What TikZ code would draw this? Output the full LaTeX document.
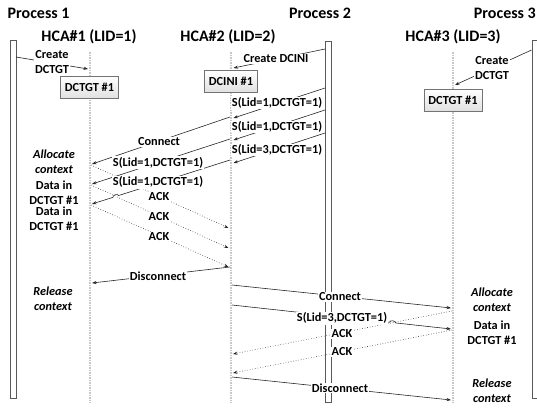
\documentclass[tikz,border=0pt]{standalone}
\usepackage{fontspec}
\setmainfont{Carlito}
\usetikzlibrary{arrows.meta,calc}
\begin{document}
\begin{tikzpicture}[x=1pt,y=-1pt,
  font=\fontsize{12.3}{15}\selectfont\bfseries,
  msg/.style={draw=black!85, line width=0.6pt, -{Stealth[length=4.5pt,width=3.2pt]}},
  ackmsg/.style={msg, dotted},
  lbl/.style={fill=white, inner sep=1pt, align=center},
  sidetxt/.style={inner sep=0pt, align=center},
  itx/.style={sidetxt, font=\fontsize{12.3}{15}\selectfont\bfseries\itshape},
  titletxt/.style={inner sep=0pt, font=\fontsize{16}{19}\selectfont\bfseries},
  lifeline/.style={draw=black!22, line width=1.5pt, densely dotted},
  procbar/.style={draw=black!65, fill=white, line width=0.6pt, inner sep=0pt, minimum width=6pt, anchor=north west},
  boxst/.style={draw=black!55, top color=white, bottom color=black!12, minimum height=22pt, inner xsep=4.5pt, line width=0.6pt}
]
\useasboundingbox (0,0) rectangle (537,407);
\clip (0,0) rectangle (537,407);

% titles
\node[titletxt, anchor=west] (t1) at (7.5,13) {Process 1};
\node[titletxt] (t2) at (320,13) {Process 2};
\node[titletxt, anchor=east] (t3) at (536,13) {Process 3};
\node[titletxt] (h1) at (89,37) {HCA\#1 (LID=1)};
\node[titletxt] (h2) at (228,37) {HCA\#2 (LID=2)};
\node[titletxt] (h3) at (453,37) {HCA\#3 (LID=3)};

% process bars
\node[procbar, minimum height=358pt] (p1) at (10,40) {};
\node[procbar, minimum height=361pt] (p2) at (325,41) {};
\node[procbar, minimum height=358pt] (p3) at (531.5,40) {};

% lifelines
\coordinate (l1t) at (90,52);  \coordinate (l1b) at (90,403);
\coordinate (l2t) at (231,52); \coordinate (l2b) at (231,403);
\coordinate (l3t) at (453,52); \coordinate (l3b) at (453,403);
\draw[lifeline] (l1t) -- (l1b);
\draw[lifeline] (l2t) -- (l2b);
\draw[lifeline] (l3t) -- (l3b);

% boxes
\node[boxst] (b1) at (89.5,87) {DCTGT \#1};
\node[boxst] (b2) at (231,81.5) {DCINI \#1};
\node[boxst] (b3) at (453,100) {DCTGT \#1};

% endpoints
\coordinate (c1s) at (16,57);    \coordinate (c1e) at (88,69);
\coordinate (c2s) at (325,49);   \coordinate (c2e) at (233.5,68);
\coordinate (c3s) at (531.5,50); \coordinate (c3e) at (455,85);

\coordinate (s1s) at (325,88);  \coordinate (s1e) at (233.5,118);
\coordinate (s2s) at (325,110); \coordinate (s2e) at (233.5,140);
\coordinate (s3s) at (325,133); \coordinate (s3e) at (233.5,163);

\coordinate (cn1s) at (230,117); \coordinate (cn1e) at (92,164);
\coordinate (d1s) at (230,139);  \coordinate (d1e) at (92,184);
\coordinate (d2s) at (230,160);  \coordinate (d2e) at (92,204);
\coordinate (a1s) at (91,165);   \coordinate (a1e) at (228.5,228);
\coordinate (a2s) at (91,185);   \coordinate (a2e) at (228.5,248);
\coordinate (a3s) at (91,205);   \coordinate (a3e) at (228.5,267);
\coordinate (ds) at (230,267);   \coordinate (de) at (92,283);

\coordinate (cn2s) at (232,285); \coordinate (cn2e) at (451,308);
\coordinate (s4s) at (232,305);  \coordinate (s4e) at (451,329);
\coordinate (e1s) at (452,311);  \coordinate (e1e) at (233,354);
\coordinate (e2s) at (452,330);  \coordinate (e2e) at (233,373);
\coordinate (dd2s) at (232,377); \coordinate (dd2e) at (451,400);

% connectors
\draw[msg] (c1s) -- (c1e);
\draw[msg] (c2s) -- (c2e);
\draw[msg] (c3s) -- (c3e);
\draw[msg] (s1s) -- (s1e);
\draw[msg] (s2s) -- (s2e);
\draw[msg] (s3s) -- (s3e);
\draw[msg] (cn1s) -- (cn1e);
\draw[msg] (d1s) -- (d1e);
\draw[ackmsg] (a1s) -- (a1e);
\draw[ackmsg] (a2s) -- (a2e);
\draw[ackmsg] (a3s) -- (a3e);
\draw[msg] (d2s) -- ($(d2s)!0.807!(d2e)$) to[bend right=90] ($(d2s)!0.848!(d2e)$) -- (d2e);
\draw[msg] (ds) -- (de);
\draw[msg] (cn2s) -- (cn2e);
\draw[ackmsg] (e1s) -- (e1e);
\draw[ackmsg] (e2s) -- (e2e);
\draw[msg] (s4s) -- ($(s4s)!0.719!(s4e)$) to[bend left=90] ($(s4s)!0.747!(s4e)$) -- (s4e);
\draw[msg] (dd2s) -- (dd2e);

% labels
\node[lbl] (lc1) at (52,62.5) {Create\\DCTGT};
\node[lbl] (lc2) at (276,59) {Create DCINI};
\node[lbl] (lc3) at (492,68) {Create\\DCTGT};
\node[lbl] (ls1) at (277,103) {S(Lid=1,DCTGT=1)};
\node[lbl] (ls2) at (277,127) {S(Lid=1,DCTGT=1)};
\node[lbl] (ls3) at (277,150) {S(Lid=3,DCTGT=1)};
\node[lbl] (lcn1) at (159,142) {Connect};
\node[lbl] (ld1) at (158,162.5) {S(Lid=1,DCTGT=1)};
\node[lbl] (ld2) at (158,182) {S(Lid=1,DCTGT=1)};
\node[lbl] (la1) at (159,197) {ACK};
\node[lbl] (la2) at (159,217) {ACK};
\node[lbl] (la3) at (159,237) {ACK};
\node[lbl] (lds) at (158,276) {Disconnect};
\node[lbl] (lcn2) at (340,297) {Connect};
\node[lbl] (ls4) at (342,318) {S(Lid=3,DCTGT=1)};
\node[lbl] (le1) at (342,334) {ACK};
\node[lbl] (le2) at (342,352) {ACK};
\node[lbl] (ldd2) at (340,388) {Disconnect};

% side texts
\node[itx] (al1) at (54,161.5) {Allocate\\context};
\node[sidetxt] (dt1) at (54,192.5) {Data in\\DCTGT \#1};
\node[sidetxt] (dt2) at (54,219) {Data in\\DCTGT \#1};
\node[itx] (rl1) at (53,299) {Release\\context};
\node[itx] (al3) at (492,300) {Allocate\\context};
\node[sidetxt] (dt3) at (492,332.5) {Data in\\DCTGT \#1};
\node[itx] (rl3) at (492,390.5) {Release\\context};
\end{tikzpicture}
\end{document}
